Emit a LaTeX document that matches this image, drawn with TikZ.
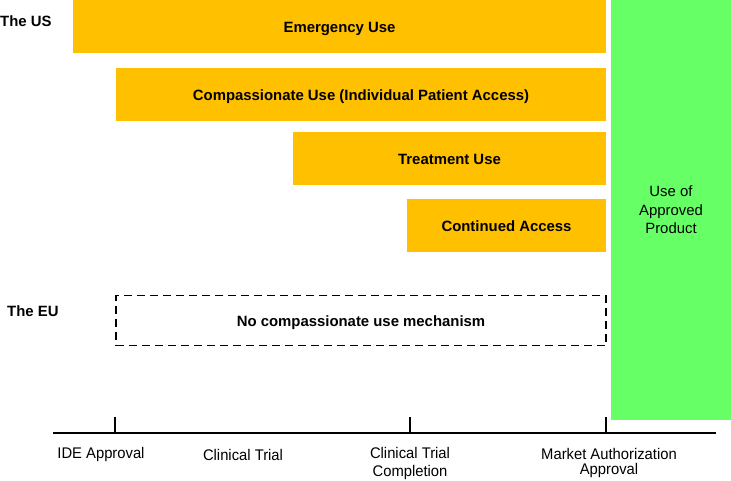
\documentclass[tikz,border=0pt]{standalone}
\usepackage{fontspec}
\setmainfont{Liberation Sans}
\newfontfamily\narrowsans[FakeStretch = 0.96]{Liberation Sans}
\usepackage{xcolor}
\usetikzlibrary{positioning}
\definecolor{useorange}{HTML}{FFC000}
\definecolor{approvedgreen}{HTML}{66FF66}
\tikzset{
	usebar/.style = {fill = useorange, draw = none, inner sep = 0pt, text height = 12.7pt, text depth = 0pt,
		font = \fontsize{14.9}{17}\selectfont\bfseries},
	regionlabel/.style = {anchor = west, inner sep = 0pt, text height = 12.7pt, text depth = 0pt,
		font = \fontsize{14.9}{17}\selectfont\bfseries},
	milestone/.style = {align = center, inner sep = 0pt, font = \narrowsans\fontsize{15.4}{18}\selectfont},
	axisline/.style = {line width = 2.5pt},
}
\begin{document}
\begin{tikzpicture}[x = 1pt, y = -1pt]
			\def\xEND{606};
			\def\yAXIS{433};
			\def\yTICK{417};

			\useasboundingbox (0,0) rectangle (731,480);

			% regions
			\node[regionlabel] (us) at (0,20.3) {The US};
			\node[regionlabel] (eu) at (7,310.2) {The EU};

			% access programmes in the US
			\begin{scope}
				\node[usebar, minimum width = 533pt, minimum height = 53pt] (emergency) at (339.5,26.5) {Emergency Use};
				\node[usebar, minimum width = 490pt, minimum height = 53pt] (compassionate) at (361,94.5) {Compassionate Use (Individual Patient Access)};
				\node[usebar, minimum width = 313pt, minimum height = 53pt] (treatment) at (449.5,158.5) {Treatment Use};
				\node[usebar, minimum width = 199pt, minimum height = 53pt] (continued) at (506.5,225.5) {Continued Access};
			\end{scope}

			% the EU
			\node[draw, line width = 1.8pt, dash pattern = on 8pt off 5pt, minimum width = 490pt, minimum height = 50pt, inner sep = 0pt,
				text height = 12.7pt, text depth = 0pt, font = \fontsize{14.9}{17}\selectfont\bfseries] (nomechanism) at (361,320.5) {No compassionate use mechanism};

			% after approval
			\node[fill = approvedgreen, minimum width = 120pt, minimum height = 420pt, inner sep = 0pt, align = center,
				font = \fontsize{14.9}{18.5}\selectfont] (approved) at (671,210) {Use of\\Approved\\Product};

			% time axis
			\begin{scope}[axisline]
				\coordinate (axisstart) at (53,\yAXIS);
				\coordinate (axisend) at (716,\yAXIS);
				\draw (axisstart) -- (axisend);

				\coordinate (ide) at (115,\yAXIS);
				\coordinate (completion) at (410,\yAXIS);
				\coordinate (market) at (\xEND,\yAXIS);
				\draw (ide) -- (115,\yTICK);
				\draw (completion) -- (410,\yTICK);
				\draw (market) -- (\xEND,\yTICK);
			\end{scope}

			\node[milestone] (idelabel) at (101,455) {IDE Approval};
			\node[milestone] (triallabel) at (243,455) {Clinical Trial};
			\node[milestone, anchor = north] (completionlabel) at (410,447) {Clinical Trial\\Completion};
			\node[milestone, anchor = north, font = \narrowsans\fontsize{15.4}{15}\selectfont] (marketlabel) at (609,448) {Market Authorization\\Approval};
		\end{tikzpicture}
\end{document}
